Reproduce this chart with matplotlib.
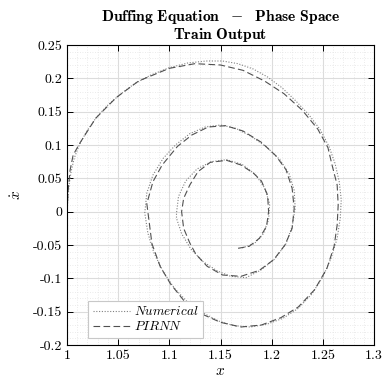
import matplotlib
matplotlib.use("Agg")
import matplotlib.pyplot as plt
from matplotlib.ticker import MultipleLocator, FuncFormatter

plt.rcParams['font.family'] = 'serif'
plt.rcParams['font.serif'] = ['cmr10']
plt.rcParams['mathtext.fontset'] = 'cm'
plt.rcParams['axes.unicode_minus'] = False

# phase portrait, reference integration (x, xdot)
num_x = [1.000, 1.001, 1.002, 1.004, 1.007, 1.012, 1.019, 1.029, 1.040, 1.052,
         1.066, 1.082, 1.100, 1.118, 1.136, 1.152, 1.167, 1.182, 1.196, 1.210,
         1.223, 1.236, 1.247, 1.256, 1.262, 1.266, 1.268, 1.267, 1.264, 1.258,
         1.250, 1.239, 1.226, 1.211, 1.195, 1.179, 1.163, 1.148, 1.133, 1.118,
         1.105, 1.094, 1.085, 1.079, 1.076, 1.078, 1.084, 1.094, 1.106, 1.120,
         1.135, 1.150, 1.165, 1.180, 1.195, 1.208, 1.217, 1.222, 1.223, 1.220,
         1.214, 1.203, 1.189, 1.175, 1.160, 1.147, 1.133, 1.121, 1.112, 1.107,
         1.107, 1.109, 1.116, 1.127, 1.141, 1.156, 1.171, 1.184, 1.193, 1.198,
         1.197, 1.192, 1.183, 1.170]
num_y = [0.000, 0.020, 0.040, 0.060, 0.080, 0.100, 0.120, 0.142, 0.160, 0.176,
         0.192, 0.205, 0.216, 0.223, 0.226, 0.226, 0.222, 0.214, 0.202, 0.186,
         0.167, 0.146, 0.124, 0.098, 0.072, 0.045, 0.018, -0.010, -0.040, -0.070,
         -0.098, -0.124, -0.145, -0.160, -0.169, -0.173, -0.171, -0.164, -0.152, -0.136,
         -0.115, -0.090, -0.062, -0.032, -0.002, 0.028, 0.055, 0.080, 0.100, 0.117,
         0.127, 0.130, 0.125, 0.113, 0.097, 0.078, 0.057, 0.032, 0.005, -0.022,
         -0.048, -0.071, -0.088, -0.099, -0.097, -0.089, -0.075, -0.056, -0.033, -0.010,
         -0.002, 0.023, 0.046, 0.064, 0.075, 0.078, 0.071, 0.056, 0.036, 0.012,
         -0.012, -0.033, -0.048, -0.055]

# network prediction on the training window
pin_x = [1.000, 1.001, 1.003, 1.006, 1.013, 1.028, 1.048, 1.070, 1.100, 1.125,
         1.150, 1.172, 1.193, 1.212, 1.230, 1.245, 1.255, 1.259, 1.264, 1.265,
         1.264, 1.261, 1.254, 1.242, 1.226, 1.209, 1.190, 1.170, 1.150, 1.131,
         1.114, 1.101, 1.091, 1.083, 1.078, 1.084, 1.093, 1.108, 1.122, 1.138,
         1.155, 1.172, 1.190, 1.204, 1.214, 1.220, 1.222, 1.220, 1.213, 1.202,
         1.188, 1.170, 1.152, 1.137, 1.126, 1.120, 1.114, 1.112, 1.114, 1.120,
         1.128, 1.140, 1.156, 1.170, 1.182, 1.190, 1.196, 1.197, 1.195, 1.188,
         1.178, 1.167]
pin_y = [0.000, 0.030, 0.062, 0.085, 0.104, 0.140, 0.171, 0.196, 0.215, 0.222,
         0.220, 0.212, 0.196, 0.177, 0.152, 0.124, 0.096, 0.070, 0.040, 0.010,
         -0.020, -0.052, -0.085, -0.117, -0.143, -0.159, -0.170, -0.173, -0.166, -0.153,
         -0.133, -0.108, -0.082, -0.048, 0.012, 0.045, 0.070, 0.098, 0.115, 0.127,
         0.129, 0.121, 0.104, 0.084, 0.063, 0.035, 0.005, -0.025, -0.050, -0.072,
         -0.088, -0.097, -0.095, -0.082, -0.064, -0.047, -0.025, 0.000, 0.020, 0.040,
         0.060, 0.074, 0.077, 0.070, 0.058, 0.046, 0.025, 0.000, -0.022, -0.040,
         -0.052, -0.055]

fig = plt.figure(figsize=(3.82, 3.82), dpi=100)
ax = fig.add_axes([67/382, 1-345/382, 307/382, 300/382])

ax.plot(num_x, num_y, linestyle=(0, (1, 1.5)), color='#808080', lw=0.8,
        label=r'$Numerical$')
ax.plot(pin_x, pin_y, linestyle=(0, (6, 3)), color='#505050', lw=0.8,
        label=r'$PIRNN$')

ax.set_xlim(1, 1.3)
ax.set_ylim(-0.2, 0.25)
ax.xaxis.set_major_locator(MultipleLocator(0.05))
ax.yaxis.set_major_locator(MultipleLocator(0.05))
ax.xaxis.set_minor_locator(MultipleLocator(0.01))
ax.yaxis.set_minor_locator(MultipleLocator(0.01))
fmt = FuncFormatter(lambda v, p: ('%g' % round(v, 3)))
ax.xaxis.set_major_formatter(fmt)
ax.yaxis.set_major_formatter(fmt)

ax.grid(which='major', color='#dcdcdc', lw=0.8)
ax.grid(which='minor', color='#e4e4e4', lw=0.6, linestyle=(0, (1, 2)))
ax.set_axisbelow(True)
ax.tick_params(which='major', direction='in', top=True, right=True,
               length=4, width=0.7, labelsize=10)
ax.tick_params(which='minor', length=0)
for s in ax.spines.values():
    s.set_linewidth(0.8)

ax.set_xlabel(r'$x$', fontsize=11, labelpad=2)
ax.set_ylabel(r'$\dot{x}$', fontsize=11, labelpad=6)
ax.set_title(r'$\mathbf{Duffing\ Equation\ \ -\ \ Phase\ Space}$' '\n'
             r'$\mathbf{Train\ Output}$', fontsize=11.3, pad=4, linespacing=1.05)

leg = ax.legend(loc='lower left', bbox_to_anchor=(21/307, 7/300),
                borderaxespad=0, fontsize=9.5, fancybox=False,
                framealpha=1, edgecolor='#c8c8c8', handlelength=2.8,
                handletextpad=0.3, labelspacing=0.15, borderpad=0.35)
leg.get_frame().set_linewidth(0.8)

fig.savefig('out.png', dpi=100)
